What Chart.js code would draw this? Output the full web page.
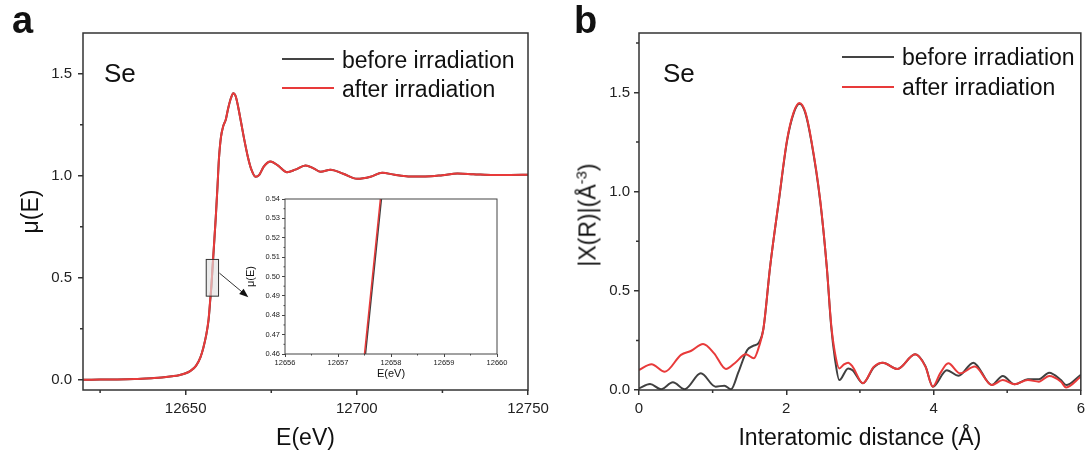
<!DOCTYPE html>
<html lang="en">
<head>
<meta charset="UTF-8">
<title>Se K-edge before / after irradiation</title>
<script src="https://cdn.jsdelivr.net/npm/chart.js"></script>
<style>
  body { margin: 0; background: #fff; font-family: 'Liberation Sans', Arial, sans-serif; }
  #wrap { position: relative; width: 1090px; height: 457px; overflow: hidden; }
  canvas { position: absolute; top: 0; }
  .lbl { position: absolute; white-space: nowrap; color: #111; }
  .panel { font-size: 38px; font-weight: bold; line-height: 38px; }
  .elem { font-size: 26px; line-height: 26px; }
  .leg { font-size: 23px; line-height: 23px; }
  .swatch { position: absolute; height: 2px; width: 52px; }
  .ytitle { font-size: 23px; line-height: 23px; transform: translate(-50%, -50%) rotate(-90deg); }
  .ytitle sup { font-size: 15px; vertical-align: 9px; line-height: 0; }
</style>
</head>
<body>
<div id="wrap">
  <canvas id="chartA" width="560" height="457" style="left:0"></canvas>
  <canvas id="chartB" width="545" height="457" style="left:545px"></canvas>
  <canvas id="inset" width="270" height="195" style="left:240px; top:190px"></canvas>

  <div class="lbl panel" style="left:12px; top:1px">a</div>
  <div class="lbl panel" style="left:574px; top:1px">b</div>
  <div class="lbl elem" style="left:104px; top:60px">Se</div>
  <div class="lbl elem" style="left:663px; top:60px">Se</div>

  <div class="swatch" style="left:282px; top:58px; background:#444"></div>
  <div class="lbl leg" style="left:342px; top:49px">before irradiation</div>
  <div class="swatch" style="left:282px; top:87px; background:#e83a3a"></div>
  <div class="lbl leg" style="left:342px; top:78px">after irradiation</div>

  <div class="swatch" style="left:842px; top:56px; background:#444"></div>
  <div class="lbl leg" style="left:902px; top:46px">before irradiation</div>
  <div class="swatch" style="left:842px; top:86px; background:#e83a3a"></div>
  <div class="lbl leg" style="left:902px; top:76px">after irradiation</div>

  <div class="lbl ytitle" style="left:588px; top:215px">|X(R)|(Å<sup>-3</sup>)</div>
</div>

<script>
  // panel a: normalised XANES, Se K-edge
  const energy = [12620, 12625, 12630, 12635, 12640, 12643, 12646, 12648, 12650, 12651.5,
    12653, 12654.3, 12655.2, 12656, 12656.7, 12657.2, 12657.5, 12657.8, 12658.3, 12658.8,
    12659.3, 12659.7, 12660.3, 12661, 12661.7, 12662.4, 12663.2, 12663.9, 12664.6, 12665.3,
    12666.2, 12667.2, 12668.2, 12669.2, 12670.4, 12671.5, 12672.8, 12674.8, 12677, 12679.6,
    12682, 12685, 12687.5, 12689.4, 12692.3, 12696, 12700.1, 12704, 12707.4, 12711,
    12715, 12720, 12725, 12729.4, 12734, 12740, 12745, 12750];
  const muAfter = [0, 0.001, 0.002, 0.004, 0.008, 0.011, 0.017, 0.022, 0.032, 0.045,
    0.068, 0.11, 0.16, 0.22, 0.30, 0.40, 0.46, 0.54, 0.67, 0.80,
    0.95, 1.08, 1.19, 1.245, 1.275, 1.33, 1.38, 1.405, 1.39, 1.34,
    1.26, 1.17, 1.09, 1.03, 0.995, 1.005, 1.045, 1.07, 1.05, 1.018,
    1.03, 1.051, 1.035, 1.02, 1.03, 1.01, 0.985, 0.995, 1.015, 1.005,
    0.997, 0.997, 1.003, 1.011, 1.008, 1.004, 1.004, 1.005];
  const muBefore = [0, 0.001, 0.002, 0.004, 0.008, 0.011, 0.017, 0.022, 0.032, 0.045,
    0.068, 0.11, 0.16, 0.22, 0.295, 0.395, 0.455, 0.535, 0.665, 0.80,
    0.95, 1.08, 1.19, 1.245, 1.275, 1.33, 1.38, 1.405, 1.39, 1.34,
    1.26, 1.17, 1.09, 1.03, 0.995, 1.005, 1.045, 1.07, 1.05, 1.018,
    1.03, 1.051, 1.035, 1.02, 1.03, 1.01, 0.985, 0.995, 1.015, 1.005,
    0.997, 0.997, 1.003, 1.011, 1.008, 1.004, 1.004, 1.005];

  // panel b: Fourier transform magnitude
  const rBefore = [0, 0.15, 0.3, 0.46, 0.62, 0.84, 1.04, 1.16, 1.25, 1.35,
    1.47, 1.55, 1.63, 1.69, 1.78, 1.9, 2.01, 2.1, 2.18, 2.26,
    2.34, 2.46, 2.55, 2.61, 2.66, 2.72, 2.84, 2.9, 3.04, 3.19,
    3.31, 3.51, 3.75, 3.89, 3.99, 4.18, 4.34, 4.54, 4.79, 4.94,
    5.1, 5.28, 5.43, 5.57, 5.73, 5.8, 6.0];
  const chiBefore = [0.008, 0.03, 0.004, 0.039, 0.004, 0.084, 0.017, 0.022, 0.004, 0.09,
    0.202, 0.222, 0.24, 0.31, 0.62, 0.955, 1.255, 1.395, 1.443, 1.395,
    1.255, 0.955, 0.62, 0.32, 0.16, 0.05, 0.109, 0.10, 0.034, 0.115,
    0.138, 0.106, 0.18, 0.12, 0.017, 0.10, 0.072, 0.138, 0.025, 0.071,
    0.029, 0.054, 0.054, 0.087, 0.05, 0.025, 0.077];
  const rAfter = [0, 0.17, 0.35, 0.57, 0.71, 0.87, 1.02, 1.18, 1.3, 1.45,
    1.56, 1.63, 1.69, 1.78, 1.9, 2.01, 2.1, 2.18, 2.26, 2.34,
    2.46, 2.55, 2.61, 2.66, 2.72, 2.78, 2.84, 2.9, 3.04, 3.19,
    3.31, 3.51, 3.75, 3.89, 3.99, 4.09, 4.2, 4.36, 4.56, 4.79,
    4.94, 5.1, 5.28, 5.43, 5.57, 5.73, 5.8, 6.0];
  const chiAfter = [0.101, 0.13, 0.092, 0.177, 0.198, 0.232, 0.185, 0.106, 0.135, 0.18,
    0.16, 0.219, 0.31, 0.62, 0.96, 1.26, 1.40, 1.447, 1.40, 1.26,
    0.96, 0.62, 0.33, 0.19, 0.109, 0.128, 0.138, 0.118, 0.034, 0.118,
    0.138, 0.106, 0.18, 0.118, 0.017, 0.084, 0.135, 0.084, 0.118, 0.025,
    0.05, 0.029, 0.05, 0.042, 0.071, 0.042, 0.013, 0.067];

  // tick labels
  const ticksEA = [12650, 12700, 12750];
  const minorEA = [12625, 12675, 12725];
  const ticksMuA = [0, 0.5, 1.0, 1.5];
  const minorMuA = [0.25, 0.75, 1.25];
  const ticksR = [0, 2, 4, 6];
  const minorR = [1, 3, 5];
  const ticksChi = [0, 0.5, 1.0, 1.5];
  const minorChi = [0.25, 0.75, 1.25, 1.75];
  const ticksEInset = [12656, 12657, 12658, 12659, 12660];
  const minorEInset = [12656.5, 12657.5, 12658.5, 12659.5];
  const ticksMuInset = [0.46, 0.47, 0.48, 0.49, 0.50, 0.51, 0.52, 0.53, 0.54];
  const minorMuInset = [0.465, 0.475, 0.485, 0.495, 0.505, 0.515, 0.525, 0.535];

  // zoom window marked on panel a, and the arrow to the inset (data units)
  const zoomBox = { xMin: 12656, xMax: 12659.6, yMin: 0.41, yMax: 0.59 };
  const zoomArrow = { x0: 12659.85, y0: 0.523, x1: 12668.3, y1: 0.405 };

  const RED = '#e83a3a';
  const GRAY = '#404040';
  Chart.defaults.font.family = "'Liberation Sans', Arial, sans-serif";
  Chart.defaults.color = '#222';

  // closed frame, minor ticks, zoom box + arrow
  const frame = {
    id: 'frame',
    afterDatasetsDraw(chart, args, o) {
      if (!o.box) return;
      const { ctx, scales: { x, y } } = chart;
      const l = x.getPixelForValue(o.box.xMin), r = x.getPixelForValue(o.box.xMax);
      const t = y.getPixelForValue(o.box.yMax), b = y.getPixelForValue(o.box.yMin);
      ctx.save();
      ctx.fillStyle = 'rgba(225,225,225,0.65)';
      ctx.fillRect(l, t, r - l, b - t);
      ctx.strokeStyle = '#333';
      ctx.lineWidth = 1;
      ctx.strokeRect(l, t, r - l, b - t);
      const x0 = x.getPixelForValue(o.arrow.x0), y0 = y.getPixelForValue(o.arrow.y0);
      const x1 = x.getPixelForValue(o.arrow.x1), y1 = y.getPixelForValue(o.arrow.y1);
      const ang = Math.atan2(y1 - y0, x1 - x0);
      ctx.beginPath();
      ctx.moveTo(x0, y0);
      ctx.lineTo(x1 - 6 * Math.cos(ang), y1 - 6 * Math.sin(ang));
      ctx.stroke();
      ctx.fillStyle = '#111';
      ctx.beginPath();
      ctx.moveTo(x1, y1);
      ctx.lineTo(x1 - 9 * Math.cos(ang) + 3.5 * Math.sin(ang), y1 - 9 * Math.sin(ang) - 3.5 * Math.cos(ang));
      ctx.lineTo(x1 - 9 * Math.cos(ang) - 3.5 * Math.sin(ang), y1 - 9 * Math.sin(ang) + 3.5 * Math.cos(ang));
      ctx.closePath();
      ctx.fill();
      ctx.restore();
    },
    afterDraw(chart, args, o) {
      const { ctx, chartArea: a, scales: { x, y } } = chart;
      ctx.save();
      ctx.strokeStyle = o.color;
      ctx.lineWidth = o.width;
      ctx.strokeRect(a.left, a.top, a.right - a.left, a.bottom - a.top);
      ctx.beginPath();
      (o.minorX || []).forEach(v => {
        const px = x.getPixelForValue(v);
        ctx.moveTo(px, a.bottom);
        ctx.lineTo(px, a.bottom + o.minorLen);
      });
      (o.minorY || []).forEach(v => {
        const py = y.getPixelForValue(v);
        ctx.moveTo(a.left, py);
        ctx.lineTo(a.left - o.minorLen, py);
      });
      ctx.stroke();
      ctx.restore();
    }
  };
  Chart.register(frame);

  function series(xs, ys, color, width, order, smooth) {
    return {
      data: xs.map((v, i) => ({ x: v, y: ys[i] })),
      borderColor: color,
      borderWidth: width,
      pointRadius: 0,
      fill: false,
      order: order,
      tension: 0,
      cubicInterpolationMode: smooth ? 'monotone' : 'default'
    };
  }

  function axis(min, max, ticks, fmt, o) {
    return {
      type: 'linear',
      min: min,
      max: max,
      afterBuildTicks: s => { s.ticks = ticks.map(v => ({ value: v })); },
      afterFit: o.fit,
      ticks: { callback: fmt, padding: o.pad, font: { size: o.size }, color: '#222', maxRotation: 0, autoSkip: false },
      grid: { drawOnChartArea: false, drawTicks: true, tickLength: o.tick, color: o.lineColor, lineWidth: o.lineWidth },
      border: { display: false },
      title: o.title ? { display: true, text: o.title, color: '#111', font: { size: o.titleSize }, padding: o.titlePad } : { display: false }
    };
  }

  const base = {
    responsive: false,
    animation: false,
    devicePixelRatio: 1,
    events: []
  };

  new Chart(document.getElementById('chartA'), {
    type: 'line',
    data: { datasets: [
      series(energy, muBefore, GRAY, 2, 2, true),
      series(energy, muAfter, RED, 2, 1, true)
    ] },
    options: Object.assign({}, base, {
      layout: { padding: { top: 33, right: 32, bottom: 0, left: 0 } },
      plugins: {
        legend: { display: false },
        tooltip: { enabled: false },
        frame: { color: '#333', width: 1.5, minorLen: 3, minorX: minorEA, minorY: minorMuA, box: zoomBox, arrow: zoomArrow }
      },
      scales: {
        x: axis(12620, 12750, ticksEA, v => String(v), {
          fit: s => { s.height = 67; }, pad: 5, size: 15, tick: 5, lineColor: '#333', lineWidth: 1.5,
          title: 'E(eV)', titleSize: 23, titlePad: { top: 0, bottom: 5 } }),
        y: axis(-0.05, 1.7, ticksMuA, v => v.toFixed(1), {
          fit: s => { s.width = 83; }, pad: 6, size: 15, tick: 5, lineColor: '#333', lineWidth: 1.5,
          title: 'μ(E)', titleSize: 23, titlePad: { top: 18, bottom: 0 } })
      }
    })
  });

  new Chart(document.getElementById('chartB'), {
    type: 'line',
    data: { datasets: [
      series(rBefore, chiBefore, GRAY, 2, 2, true),
      series(rAfter, chiAfter, RED, 2, 1, true)
    ] },
    options: Object.assign({}, base, {
      layout: { padding: { top: 33, right: 5, bottom: 0, left: 0 } },
      plugins: {
        legend: { display: false },
        tooltip: { enabled: false },
        frame: { color: '#333', width: 1.5, minorLen: 3, minorX: minorR, minorY: minorChi }
      },
      scales: {
        x: axis(0, 6, ticksR, v => String(v), {
          fit: s => { s.height = 67; }, pad: 5, size: 15, tick: 5, lineColor: '#333', lineWidth: 1.5,
          title: 'Interatomic distance (Å)', titleSize: 23, titlePad: { top: 0, bottom: 5 } }),
        y: axis(0, 1.8, ticksChi, v => v.toFixed(1), {
          fit: s => { s.width = 94; }, pad: 4, size: 15, tick: 5, lineColor: '#333', lineWidth: 1.5 })
      }
    })
  });

  new Chart(document.getElementById('inset'), {
    type: 'line',
    data: { datasets: [
      series(energy, muBefore, GRAY, 1.5, 2, false),
      series(energy, muAfter, RED, 1.5, 1, false)
    ] },
    options: Object.assign({}, base, {
      layout: { padding: { top: 9, right: 13, bottom: 0, left: 0 } },
      plugins: {
        legend: { display: false },
        tooltip: { enabled: false },
        frame: { color: '#444', width: 1, minorLen: 1.5, minorX: minorEInset, minorY: minorMuInset }
      },
      scales: {
        x: axis(12656, 12660, ticksEInset, v => String(v), {
          fit: s => { s.height = 31; }, pad: 1, size: 7.5, tick: 3, lineColor: '#444', lineWidth: 1,
          title: 'E(eV)', titleSize: 11, titlePad: { top: 0, bottom: 4 } }),
        y: axis(0.46, 0.54, ticksMuInset, v => v.toFixed(2), {
          fit: s => { s.width = 45; }, pad: 2, size: 7.5, tick: 3, lineColor: '#444', lineWidth: 1,
          title: 'μ(E)', titleSize: 11, titlePad: { top: 4, bottom: 0 } })
      }
    })
  });
</script>
</body>
</html>
